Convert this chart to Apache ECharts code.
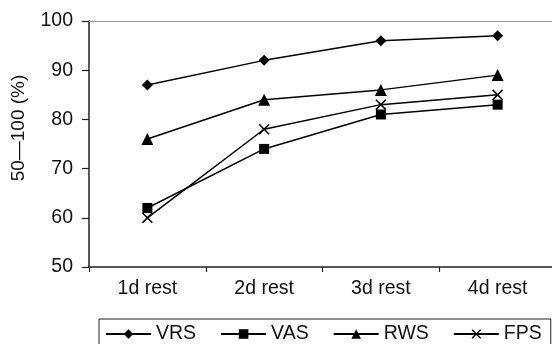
<!DOCTYPE html>
<html>
<head>
<meta charset="utf-8">
<script src="https://cdn.jsdelivr.net/npm/echarts@6/dist/echarts.min.js"></script>
<style>
  html, body { margin: 0; padding: 0; background: #fff; }
  #chart { width: 552px; height: 344px; }
</style>
</head>
<body>
<div id="chart"></div>
<script>
// Rest-day categories and score series (%)
const categories = ['1d rest', '2d rest', '3d rest', '4d rest'];
const vrs = [87, 92, 96, 97];
const vas = [62, 74, 81, 83];
const rws = [76, 84, 86, 89];
const fps = [60, 78, 83, 85];
const yTicks = { min: 50, max: 100, step: 10 };
const yName = '50—100 (%)';

const FONT = 'Liberation Sans, Arial, sans-serif';
// filled cross used as the "×" marker
const crossPath = 'path://M0,1L1,0L5,4L9,0L10,1L6,5L10,9L9,10L5,6L1,10L0,9L4,5Z';

function lineSeries(name, data, symbol, size) {
  return {
    name, type: 'line', data,
    symbol, symbolSize: size,
    lineStyle: { color: '#000', width: 1.5 },
    itemStyle: { color: '#000', borderWidth: 0 },
    emphasis: { disabled: true },
    animation: false
  };
}

const chart = echarts.init(document.getElementById('chart'), null, { renderer: 'canvas' });
chart.setOption({
  backgroundColor: '#fff',
  animation: false,
  textStyle: { fontFamily: FONT },
  grid: { left: 89, top: 21, width: 467, height: 246, containLabel: false, outerBoundsMode: 'none' },
  legend: {
    left: 99, top: 319,
    padding: [5, 9, 12, 6],
    borderColor: '#222', borderWidth: 1,
    itemWidth: 45, itemHeight: 12, itemGap: 24,
    textStyle: { fontFamily: FONT, fontSize: 19.5, color: '#111' },
    data: ['VRS', 'VAS', 'RWS', 'FPS']
  },
  xAxis: [{
    type: 'category', data: categories, boundaryGap: true,
    axisLine: { lineStyle: { color: '#222', width: 1.5 } },
    axisTick: { show: true, length: 5, alignWithLabel: false, lineStyle: { color: '#222', width: 1.2 } },
    axisLabel: { fontFamily: FONT, fontSize: 19.5, color: '#111', margin: 12 },
    splitLine: { show: false }
  }, {
    type: 'category', data: categories, position: 'top',
    axisLine: { lineStyle: { color: '#999', width: 1.2 } },
    axisTick: { show: false }, axisLabel: { show: false }, splitLine: { show: false }
  }],
  yAxis: {
    type: 'value', min: yTicks.min, max: yTicks.max, interval: yTicks.step,
    name: yName, nameLocation: 'middle', nameRotate: 90, nameGap: 61,
    nameTextStyle: { fontFamily: FONT, fontSize: 19, color: '#111', padding: [0, 0, 0, 32] },
    axisLine: { show: true, lineStyle: { color: '#222', width: 1.5 } },
    axisTick: { show: true, length: 7, lineStyle: { color: '#222', width: 1.2 } },
    axisLabel: { fontFamily: FONT, fontSize: 19.5, color: '#111', margin: 16 },
    splitLine: { show: false }
  },
  series: [
    lineSeries('VRS', vrs, 'diamond', 11),
    lineSeries('VAS', vas, 'rect', 10),
    lineSeries('RWS', rws, 'triangle', 12),
    lineSeries('FPS', fps, crossPath, 11)
  ]
});
</script>
</body>
</html>
